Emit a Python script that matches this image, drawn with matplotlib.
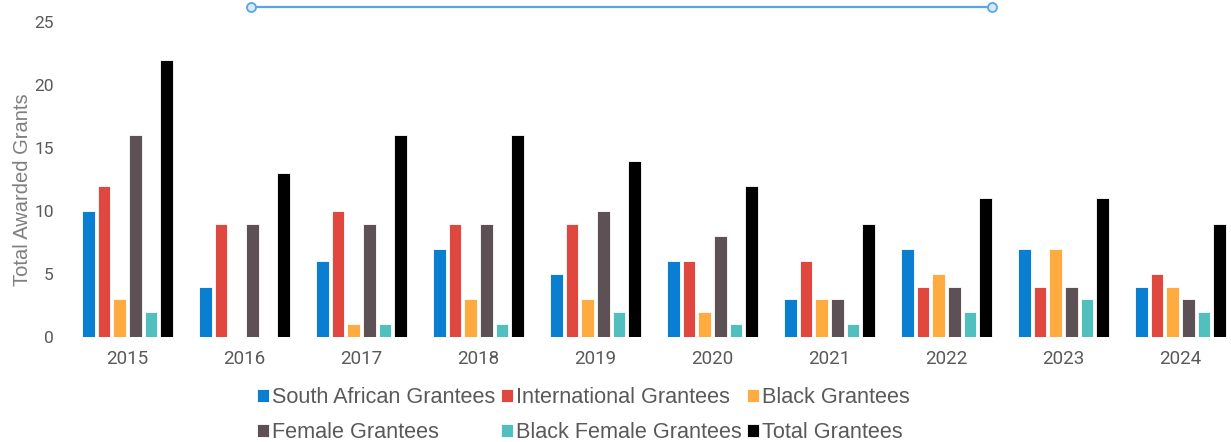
import numpy as np
import matplotlib.pyplot as plt
from matplotlib.lines import Line2D

years = ['2015', '2016', '2017', '2018', '2019', '2020', '2021', '2022', '2023', '2024']
south_african = [10, 4, 6, 7, 5, 6, 3, 7, 7, 4]
international = [12, 9, 10, 9, 9, 6, 6, 4, 4, 5]
black = [3, 0, 1, 3, 3, 2, 3, 5, 7, 4]
female = [16, 9, 9, 9, 10, 8, 3, 4, 4, 3]
black_female = [2, 0, 1, 1, 2, 1, 1, 2, 3, 2]
total = [22, 13, 16, 16, 14, 12, 9, 11, 11, 9]

series = [
    ('South African Grantees', south_african, '#0a7fd1'),
    ('International Grantees', international, '#e0483f'),
    ('Black Grantees', black, '#ffab40'),
    ('Female Grantees', female, '#5d5156'),
    ('Black Female Grantees', black_female, '#50bfbe'),
    ('Total Grantees', total, '#000000'),
]

W, H = 1231, 442
fig = plt.figure(figsize=(W / 100, H / 100), dpi=100)
ax = fig.add_axes([69 / W, (H - 337) / H, 1170 / W, 315 / H])

x = np.arange(len(years))
pitch = 0.134
width = 0.107
handles = []
for i, (name, vals, col) in enumerate(series):
    off = (i - 2.5) * pitch
    b = ax.bar(x + off, vals, width, color=col, edgecolor='#ffffff', linewidth=0.6, label=name)
    handles.append(b)

ax.set_xlim(-0.5, len(years) - 0.5)
ax.set_ylim(0, 25)
ax.set_yticks([0, 5, 10, 15, 20, 25])
ax.set_xticks(x)
ax.set_xticklabels(years)
for s in ax.spines.values():
    s.set_visible(False)
ax.tick_params(axis='both', length=0, colors='#595959')
ax.tick_params(axis='x', labelsize=13.5, pad=9)
ax.tick_params(axis='y', labelsize=12.5, pad=11)
for lab in ax.get_xticklabels() + ax.get_yticklabels():
    lab.set_family('Roboto')
ax.set_ylabel('Total Awarded Grants', fontsize=14.5, color='#7f7f7f', family='Liberation Sans')
ax.yaxis.set_label_coords(-0.032, 0.467)

# legend fills row by row
order = [0, 3, 1, 4, 2, 5]
leg = fig.legend([handles[k] for k in order], [series[k][0] for k in order],
                 ncol=3, loc='upper left', bbox_to_anchor=(246 / W, 1 - 376 / H),
                 frameon=False, prop={'family': 'Liberation Sans', 'size': 15.6},
                 handlelength=0.55, handleheight=0.55, handletextpad=0.15,
                 columnspacing=0.25, labelspacing=0.65, borderpad=0)
for t in leg.get_texts():
    t.set_color('#595959')

# selection bar at the top
fig.add_artist(Line2D([251 / W, 992 / W], [1 - 7 / H, 1 - 7 / H], color='#5aa5e6', lw=1.6,
                      transform=fig.transFigure))
fig.add_artist(Line2D([251 / W, 992 / W], [1 - 7 / H, 1 - 7 / H], ls='none', marker='o', ms=6.5,
                      mfc='#d6e9fa', mec='#5aa5e6', mew=1.3, transform=fig.transFigure))

fig.savefig('out.png', dpi=100)
